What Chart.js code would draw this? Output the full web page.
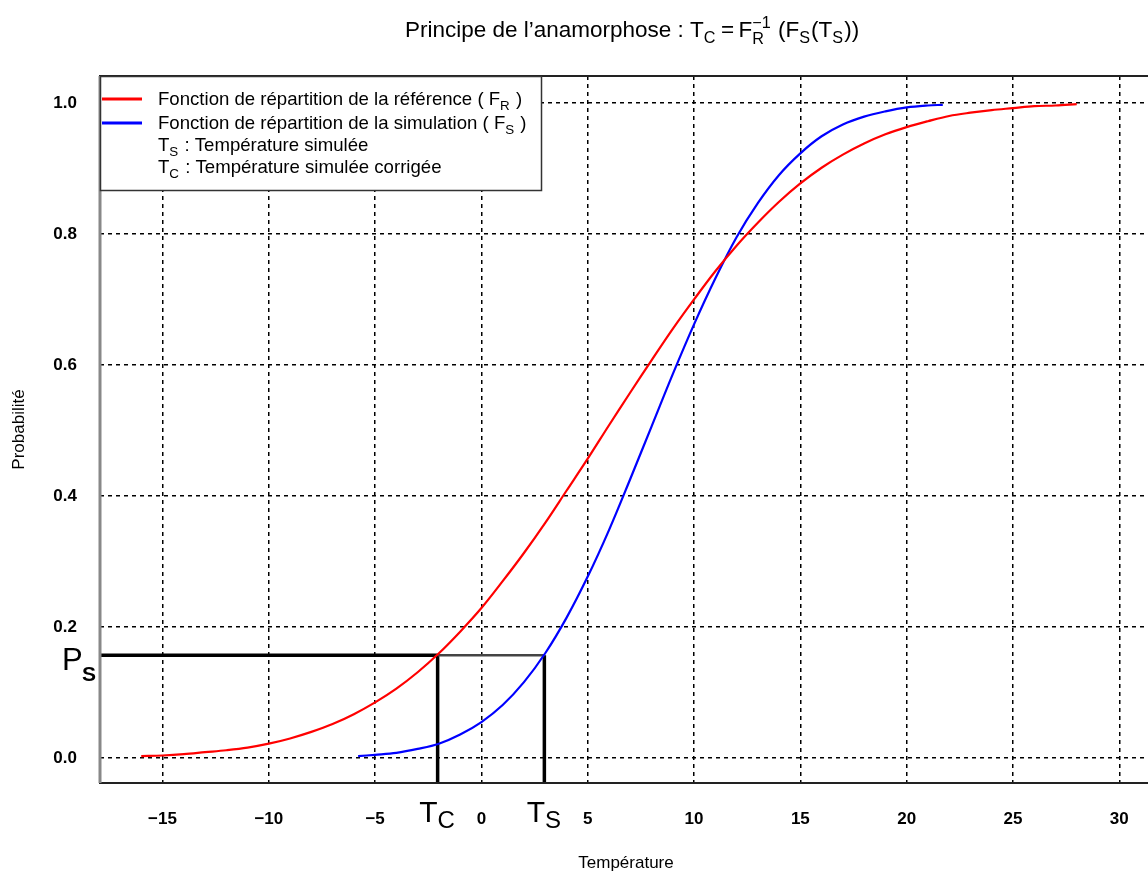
<!DOCTYPE html>
<html>
<head>
<meta charset="utf-8">
<script src="https://cdn.jsdelivr.net/npm/chart.js@4/dist/chart.umd.min.js"></script>
<style>
  html, body { margin: 0; padding: 0; background: #fff; overflow: hidden; }
  canvas { display: block; }
</style>
</head>
<body>
<canvas id="anam" width="1160" height="872"></canvas>
<script>
// reference CDF (red)
const redX = [-16,-15,-14,-13,-12,-11,-10,-9,-8,-7,-6,-5,-4,-3,-2,-1,0,1,2,3,4,5,6,7,8,9,10,11,12,13,14,15,16,17,18,19,20,21,22,23,24,25,26,27,28];
const redY = [0.003,0.004,0.006,0.009,0.012,0.016,0.022,0.030,0.040,0.052,0.067,0.085,0.106,0.131,0.160,0.193,0.229,0.270,0.313,0.359,0.408,0.457,0.508,0.558,0.607,0.655,0.700,0.743,0.782,0.817,0.849,0.877,0.901,0.921,0.938,0.952,0.963,0.972,0.980,0.985,0.989,0.992,0.995,0.996,0.998];

// simulated CDF (blue)
const blueX = [-5.8,-5,-4,-3,-2,-1,0,1,2,3,4,5,6,7,8,9,10,11,12,13,14,15,16,17,18,19,20,21,21.7];
const blueY = [0.003,0.005,0.008,0.014,0.022,0.036,0.055,0.081,0.116,0.160,0.214,0.277,0.348,0.426,0.506,0.586,0.662,0.732,0.795,0.847,0.890,0.923,0.949,0.967,0.979,0.987,0.993,0.996,0.997];

const xTicks = [-15,-10,-5,0,5,10,15,20,25,30];
const yTicks = [0, 0.2, 0.4, 0.6, 0.8, 1.0];

// simulated temperature, corrected temperature, shared probability
const Ts = 2.96;
const Tc = -2.06;
const Ps = 0.157;

const xMin = -17.94, xMax = 31.54;
const yMin = -0.038, yMax = 1.041;

const FONT = '"Liberation Sans", Arial, Helvetica, sans-serif';

function pt(xs, ys) {
  return xs.map((x, i) => ({ x: x, y: ys[i] }));
}

// little rich-text helper for sub/superscripts
function partWidth(ctx, p, size) {
  if (p.t !== undefined) {
    ctx.font = (p.bold ? 'bold ' : '') + size + 'px ' + FONT;
    return ctx.measureText(p.t).width;
  }
  const s = size * (p.scale || 0.72);
  ctx.font = (p.bold ? 'bold ' : '') + s + 'px ' + FONT;
  return Math.max(ctx.measureText(p.sub || '').width, ctx.measureText(p.sup || '').width) + 1;
}

function drawRich(ctx, parts, x, y, size, align) {
  let w = 0;
  for (const p of parts) w += partWidth(ctx, p, size);
  let cx = align === 'center' ? x - w / 2 : x;
  ctx.textAlign = 'left';
  ctx.textBaseline = 'alphabetic';
  for (const p of parts) {
    const pw = partWidth(ctx, p, size);
    if (p.t !== undefined) {
      ctx.fillText(p.t, cx, y);
    } else {
      if (p.sub) ctx.fillText(p.sub, cx, y + size * (p.drop || 0.25));
      if (p.sup) ctx.fillText(p.sup, cx, y - size * 0.42);
    }
    cx += pw;
  }
}

const decorations = {
  id: 'decorations',
  afterDatasetsDraw(chart) {
    const ctx = chart.ctx;
    const a = chart.chartArea;
    const xs = chart.scales.x;
    ctx.save();

    // frame
    ctx.strokeStyle = '#222';
    ctx.lineWidth = 2;
    ctx.strokeRect(a.left, a.top, a.right - a.left, a.bottom - a.top);
    ctx.strokeStyle = '#888';
    ctx.lineWidth = 3;
    ctx.beginPath();
    ctx.moveTo(a.left, a.top);
    ctx.lineTo(a.left, a.bottom);
    ctx.stroke();

    // legend box
    const lx = a.left, ly = a.top, lw = 441, lh = 114;
    ctx.fillStyle = '#fff';
    ctx.fillRect(lx, ly, lw, lh);
    ctx.strokeStyle = '#333';
    ctx.lineWidth = 1.5;
    ctx.strokeRect(lx + 0.5, ly + 0.5, lw, lh);

    ctx.lineWidth = 3;
    ctx.strokeStyle = '#ff0000';
    ctx.beginPath(); ctx.moveTo(lx + 2, ly + 23); ctx.lineTo(lx + 42, ly + 23); ctx.stroke();
    ctx.strokeStyle = '#0000ff';
    ctx.beginPath(); ctx.moveTo(lx + 2, ly + 47); ctx.lineTo(lx + 42, ly + 47); ctx.stroke();

    ctx.fillStyle = '#000';
    const ls = 18.6, tx = lx + 58;
    drawRich(ctx, [{ t: 'Fonction de répartition de la référence ( F' }, { sub: 'R' }, { t: ' )' }], tx, ly + 29, ls);
    drawRich(ctx, [{ t: 'Fonction de répartition de la simulation ( F' }, { sub: 'S' }, { t: ' )' }], tx, ly + 53, ls);
    drawRich(ctx, [{ t: 'T' }, { sub: 'S' }, { t: ' : Température simulée' }], tx, ly + 75, ls);
    drawRich(ctx, [{ t: 'T' }, { sub: 'C' }, { t: ' : Température simulée corrigée' }], tx, ly + 97, ls);

    // title
    drawRich(ctx, [
      { t: 'Principe de l\u2019anamorphose : T' }, { sub: 'C' },
      { t: '\u2009=\u2009F' }, { sub: 'R', sup: '\u22121', drop: 0.3 },
      { t: ' (F' }, { sub: 'S' }, { t: '(T' }, { sub: 'S' }, { t: '))' }
    ], 632, 37, 22.5, 'center');

    // axis titles
    ctx.font = '17px ' + FONT;
    ctx.textAlign = 'center';
    ctx.textBaseline = 'middle';
    ctx.fillText('Température', 626, 863);
    ctx.save();
    ctx.translate(19, (a.top + a.bottom) / 2);
    ctx.rotate(-Math.PI / 2);
    ctx.fillText('Probabilité', 0, 0);
    ctx.restore();

    // Ps, Tc, Ts markers
    ctx.textAlign = 'left';
    ctx.textBaseline = 'alphabetic';
    ctx.font = '31px ' + FONT;
    ctx.fillText('P', 62, 670);
    ctx.font = 'bold 21px ' + FONT;
    ctx.fillText('S', 82, 681);

    const tcx = xs.getPixelForValue(Tc);
    const tsx = xs.getPixelForValue(Ts);
    drawRich(ctx, [{ t: 'T' }, { sub: 'C', scale: 0.8, drop: 0.2 }], tcx, 822, 30, 'center');
    drawRich(ctx, [{ t: 'T' }, { sub: 'S', scale: 0.8, drop: 0.2 }], tsx, 822, 30, 'center');

    ctx.restore();
  }
};

const cfg = {
  type: 'line',
  data: {
    datasets: [
      {
        label: 'F_R',
        data: pt(redX, redY),
        borderColor: '#ff0000',
        borderWidth: 2.2,
        pointRadius: 0,
        tension: 0.35,
        fill: false
      },
      {
        label: 'F_S',
        data: pt(blueX, blueY),
        borderColor: '#0000ff',
        borderWidth: 2.2,
        pointRadius: 0,
        tension: 0.35,
        fill: false
      },
      {
        label: 'Ps',
        data: [{ x: xMin, y: Ps }, { x: Tc, y: Ps }],
        borderColor: '#000',
        borderWidth: 3.5,
        pointRadius: 0
      },
      {
        label: 'Ps-Ts',
        data: [{ x: Tc, y: Ps }, { x: Ts, y: Ps }],
        borderColor: '#444',
        borderWidth: 2.5,
        pointRadius: 0
      },
      {
        label: 'Tc',
        data: [{ x: Tc, y: yMin }, { x: Tc, y: Ps }],
        borderColor: '#000',
        borderWidth: 3.5,
        pointRadius: 0
      },
      {
        label: 'Ts',
        data: [{ x: Ts, y: yMin }, { x: Ts, y: Ps }],
        borderColor: '#000',
        borderWidth: 3.5,
        pointRadius: 0
      }
    ]
  },
  options: {
    responsive: false,
    animation: false,
    layout: { padding: { top: 76, right: 8, left: 0, bottom: 0 } },
    plugins: {
      legend: { display: false },
      title: { display: false },
      tooltip: { enabled: false }
    },
    scales: {
      x: {
        type: 'linear',
        min: xMin,
        max: xMax,
        afterBuildTicks: s => { s.ticks = xTicks.map(v => ({ value: v })); },
        afterFit: s => { s.height = 89; },
        grid: { color: '#000', lineWidth: 1.5, drawTicks: false },
        border: { display: false, dash: [4, 4] },
        ticks: {
          padding: 26,
          color: '#000',
          font: { family: FONT, size: 17, weight: 'bold' },
          callback: v => (v < 0 ? '\u2212' + Math.abs(v) : String(v))
        }
      },
      y: {
        type: 'linear',
        min: yMin,
        max: yMax,
        afterBuildTicks: s => { s.ticks = yTicks.map(v => ({ value: v })); },
        afterFit: s => { s.width = 100; },
        grid: { color: '#000', lineWidth: 1.5, drawTicks: false },
        border: { display: false, dash: [4, 4] },
        ticks: {
          padding: 23,
          color: '#000',
          font: { family: FONT, size: 17, weight: 'bold' },
          callback: v => v.toFixed(1)
        }
      }
    }
  },
  plugins: [decorations]
};

new Chart(document.getElementById('anam'), cfg);
</script>
</body>
</html>
